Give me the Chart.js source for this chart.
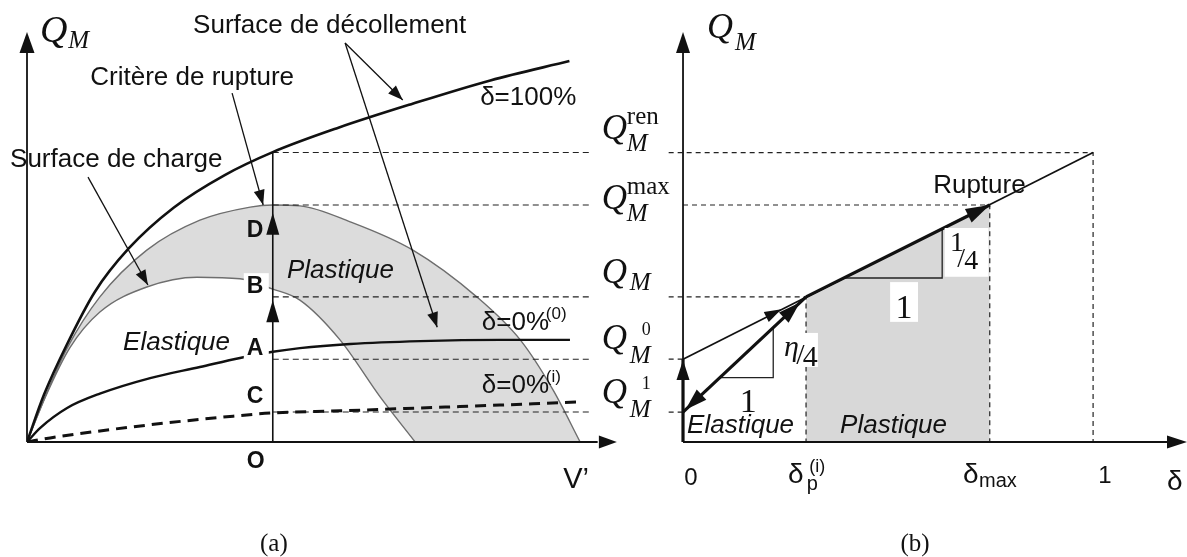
<!DOCTYPE html>
<html>
<head>
<meta charset="utf-8">
<title>Q_M - V' / delta</title>
<script src="https://cdn.jsdelivr.net/npm/chart.js@4.4.1/dist/chart.umd.min.js"></script>
<style>
  body { margin: 0; background: #fff; width: 1187px; height: 557px; overflow: hidden; position: relative; }
  canvas { position: absolute; top: 0; }
  #panelA { left: 0; }
  #panelB { left: 597px; }
</style>
</head>
<body>
<canvas id="panelA" width="620" height="557"></canvas>
<canvas id="panelB" width="590" height="557"></canvas>
<script>
// Q_M levels shared by both panels: ren, max, current, 0, 1
var qmLevels = [70.6, 57.8, 35.4, 20.2, 7.3];
var qmSup = ["ren", "max", "", "0", "1"];

// panel (a): V' - Q_M plane
var vO = 43.5; // abscissa of point O
var decolV = [0, 3, 7, 12, 18, 26, 35, 43.5, 55, 68, 82, 96];
var decolQ = [0, 11.5, 23.6, 36.6, 47.2, 57.2, 65.1, 70.7, 76.6, 82.4, 88.2, 92.9];
var ruptV = [0, 3.2, 7.1, 12.9, 21.2, 30.6, 39.5, 43.5, 48.3, 57.2, 68.3, 79.6, 87.3, 93.1, 97.9];
var ruptQ = [0, 11.0, 22.9, 35.4, 46.8, 54.1, 57.3, 57.8, 57.6, 53.7, 46.8, 35.4, 24.9, 12.7, 0];
var chargeV = [0, 3.2, 7.6, 12.9, 21.2, 30.1, 37.7, 43.5, 48.3, 55.4, 62.5, 68.7];
var chargeQ = [0, 10.8, 23.0, 31.7, 37.8, 40.2, 39.8, 37.3, 34.6, 24.9, 11.0, 0];
var zero0V = [0, 2.3, 7.1, 12.9, 21.8, 30.6, 37.7, 43.5, 48.3, 57.2, 69.6, 83.7, 96.1];
var zero0Q = [0, 3.4, 8.3, 11.8, 15.6, 18.3, 20.5, 22.0, 22.9, 23.9, 24.6, 24.9, 24.9];
var zeroIV = [0, 4.1, 21.8, 36.5, 43.5, 55.4, 69.6, 83.7, 97.9];
var zeroIQ = [0, 1.0, 4.2, 6.3, 7.1, 7.6, 8.3, 9.0, 9.8];

// panel (b): delta - Q_M plane
var deltaVals = [0, 0.30, 0.748, 1]; // 0, delta_p(i), delta_max, 1
var tri1D = [0.09, 0.22, 0.22], tri1Q = [15.7, 15.7, 27.9];
var tri2D = [0.395, 0.632, 0.632], tri2Q = [40.0, 40.0, 52.0];

function pts(xs, ys) {
  return xs.map(function (x, i) { return { x: x, y: ys[i] }; });
}

function arrowHead(ctx, x0, y0, x1, y1, len, half) {
  var a = Math.atan2(y1 - y0, x1 - x0), c = Math.cos(a), s = Math.sin(a);
  ctx.beginPath();
  ctx.moveTo(x1, y1);
  ctx.lineTo(x1 - len * c + half * s, y1 - len * s - half * c);
  ctx.lineTo(x1 - len * c - half * s, y1 - len * s + half * c);
  ctx.closePath();
  ctx.fill();
}

function seg(ctx, x0, y0, x1, y1, w) {
  ctx.lineWidth = w;
  ctx.beginPath();
  ctx.moveTo(x0, y0);
  ctx.lineTo(x1, y1);
  ctx.stroke();
}

function txt(ctx, s, x, y, font, align) {
  ctx.font = font;
  ctx.textAlign = align || 'left';
  ctx.textBaseline = 'alphabetic';
  ctx.fillText(s, x, y);
}

var SANS = "'Liberation Sans', Arial, sans-serif";
var SERIF = "'Liberation Serif', 'Times New Roman', serif";

// ---------- panel (a) ----------
var guidesA = [];
qmLevels.forEach(function (q) {
  guidesA.push({ x: vO, y: q }, { x: 100, y: q }, { x: 100, y: null });
});

var drawA = {
  id: 'drawA',
  afterDatasetsDraw: function (chart) {
    var ctx = chart.ctx, sx = chart.scales.x, sy = chart.scales.y;
    var X = function (v) { return sx.getPixelForValue(v); };
    var Y = function (q) { return sy.getPixelForValue(q); };
    ctx.save();
    ctx.strokeStyle = '#111';
    ctx.fillStyle = '#111';
    ctx.setLineDash([]);

    // axes
    seg(ctx, X(0), Y(0), X(0), Y(95), 1.8);
    arrowHead(ctx, X(0), Y(90), X(0), Y(100), 21, 7.5);
    seg(ctx, X(0), Y(0), X(101), Y(0), 1.8);
    arrowHead(ctx, X(95), Y(0), X(104.4), Y(0), 18, 6.5);

    // loading path O -> A -> B -> D
    arrowHead(ctx, X(vO), Y(25), X(vO), Y(34.6), 22, 6.5);
    arrowHead(ctx, X(vO), Y(45), X(vO), Y(55.9), 22, 6.5);

    // leader lines
    [[56.3, 97.3, 66.5, 83.4], [56.3, 97.3, 72.6, 28.0],
     [36.3, 85.1, 41.8, 57.8], [10.8, 64.6, 21.4, 38.3]].forEach(function (l) {
      seg(ctx, X(l[0]), Y(l[1]), X(l[2]), Y(l[3]), 1.3);
      arrowHead(ctx, X(l[0]), Y(l[1]), X(l[2]), Y(l[3]), 15, 5.5);
    });

    // point letters (B and A sit on a white patch)
    var letters = [['D', 50.0, false], ['B', 36.3, true], ['A', 21.2, true], ['C', 9.5, false], ['O', -6.3, false]];
    letters.forEach(function (l) {
      var x = X(38.9), y = Y(l[1]);
      if (l[2]) {
        ctx.fillStyle = '#fff';
        ctx.fillRect(x - 3, y - 20, 25, 24);
        ctx.fillStyle = '#111';
      }
      txt(ctx, l[0], x, y, 'bold 23px ' + SANS);
    });

    txt(ctx, 'Surface de décollement', X(29.4), Y(99.8), '26px ' + SANS);
    txt(ctx, 'Critère de rupture', X(11.2), Y(87.1), '26px ' + SANS);
    txt(ctx, 'Surface de charge', X(-3.0), Y(67.1), '26px ' + SANS);
    txt(ctx, 'δ=100%', X(80.2), Y(82.2), '26px ' + SANS);
    txt(ctx, 'Plastique', X(46.0), Y(40.0), 'italic 26px ' + SANS);
    txt(ctx, 'Elastique', X(17.0), Y(22.4), 'italic 26px ' + SANS);
    txt(ctx, 'δ=0%', X(80.5), Y(27.3), '26px ' + SANS);
    txt(ctx, '(0)', X(80.5) + 64, Y(27.3) - 11, '17px ' + SANS);
    txt(ctx, 'δ=0%', X(80.5), Y(12.0), '26px ' + SANS);
    txt(ctx, '(i)', X(80.5) + 64, Y(12.0) - 11, '17px ' + SANS);
    txt(ctx, 'V’', X(94.9), Y(-11.2), '29px ' + SANS);

    txt(ctx, 'Q', X(2.3), Y(97.6), 'italic 38px ' + SERIF);
    txt(ctx, 'M', X(7.3), Y(96.1), 'italic 25px ' + SERIF);

    txt(ctx, '(a)', X(43.7), Y(-26.5), '25px ' + SERIF, 'center');
    ctx.restore();
  }
};

new Chart(document.getElementById('panelA'), {
  type: 'scatter',
  data: {
    datasets: [
      { data: pts(decolV, decolQ), showLine: true, cubicInterpolationMode: 'monotone',
        borderColor: '#111', borderWidth: 2.6 },
      { data: pts(zero0V, zero0Q), showLine: true, cubicInterpolationMode: 'monotone',
        borderColor: '#111', borderWidth: 2.4 },
      { data: pts(zeroIV, zeroIQ), showLine: true, cubicInterpolationMode: 'monotone',
        borderColor: '#111', borderWidth: 3, borderDash: [11, 7] },
      { data: pts([vO, vO], [0, qmLevels[0]]), showLine: true,
        borderColor: '#111', borderWidth: 1.6 },
      { data: guidesA, showLine: true, borderColor: '#222', borderWidth: 1.1, borderDash: [6, 4] },
      { data: pts(chargeV, chargeQ), showLine: true, cubicInterpolationMode: 'monotone',
        borderColor: '#6e6e6e', borderWidth: 1.4, fill: 'origin', backgroundColor: '#ffffff' },
      { data: pts(ruptV, ruptQ), showLine: true, cubicInterpolationMode: 'monotone',
        borderColor: '#6e6e6e', borderWidth: 1.4, fill: 'origin', backgroundColor: '#dcdcdc' }
    ]
  },
  options: {
    responsive: false,
    animation: false,
    devicePixelRatio: 1,
    layout: { padding: { left: 27, right: 28, top: 32, bottom: 115 } },
    elements: { point: { radius: 0, hoverRadius: 0 } },
    scales: {
      x: { type: 'linear', min: 0, max: 100, display: false },
      y: { type: 'linear', min: 0, max: 100, display: false }
    },
    plugins: {
      legend: { display: false },
      tooltip: { enabled: false },
      filler: { drawTime: 'beforeDatasetsDraw' }
    }
  },
  plugins: [drawA]
});

// ---------- panel (b) ----------
var dP = deltaVals[1], dMax = deltaVals[2];
var guidesB = [
  { x: -0.035, y: qmLevels[0] }, { x: deltaVals[3], y: qmLevels[0] }, { x: deltaVals[3], y: 0 }, { x: 1, y: null },
  { x: 0, y: qmLevels[1] }, { x: dMax, y: qmLevels[1] }, { x: dMax, y: 0 }, { x: dMax, y: null },
  { x: -0.035, y: qmLevels[2] }, { x: dP, y: qmLevels[2] }, { x: dP, y: 0 }, { x: dP, y: null },
  { x: -0.035, y: qmLevels[3] }, { x: 0, y: qmLevels[3] }, { x: 0, y: null },
  { x: -0.035, y: qmLevels[4] }, { x: 0, y: qmLevels[4] }
];
var triangles = pts(tri1D, tri1Q).concat([{ x: 0.3, y: null }], pts(tri2D, tri2Q));

var drawB = {
  id: 'drawB',
  afterDatasetsDraw: function (chart) {
    var ctx = chart.ctx, sx = chart.scales.x, sy = chart.scales.y;
    var X = function (v) { return sx.getPixelForValue(v); };
    var Y = function (q) { return sy.getPixelForValue(q); };
    ctx.save();
    ctx.strokeStyle = '#111';
    ctx.fillStyle = '#111';
    ctx.setLineDash([]);

    // axes
    seg(ctx, X(0), Y(0), X(0), Y(95), 1.8);
    arrowHead(ctx, X(0), Y(90), X(0), Y(100), 21, 7);
    seg(ctx, X(0), Y(0), X(1.2), Y(0), 1.8);
    arrowHead(ctx, X(1.1), Y(0), X(1.229), Y(0), 20, 6.5);

    // arrow heads on the loading paths
    var q = qmLevels;
    arrowHead(ctx, X(0), Y(5), X(0), Y(q[3] - 0.2), 20, 6.5);
    var tU = 0.95, tL = 0.02;
    arrowHead(ctx, X(0), Y(q[4]), X(dP * tU), Y(q[4] + (q[2] - q[4]) * tU), 22, 7);
    arrowHead(ctx, X(dP), Y(q[2]), X(dP * tL), Y(q[2] + (q[4] - q[2]) * (1 - tL)), 22, 7);
    var tR = 0.8;
    arrowHead(ctx, X(0), Y(q[3]), X(dP * tR), Y(q[3] + (q[2] - q[3]) * tR), 17, 5.5);
    arrowHead(ctx, X(dP), Y(q[2]), X(dMax), Y(q[1]), 24, 7.5);

    // white patches behind slope labels
    ctx.fillStyle = '#fff';
    ctx.fillRect(X(0.239), Y(26.6), X(0.329) - X(0.239), Y(18.3) - Y(26.6));
    ctx.fillRect(X(0.505), Y(39.0), X(0.573) - X(0.505), Y(29.3) - Y(39.0));
    ctx.fillRect(X(0.638), Y(52.2), X(0.745) - X(0.638), Y(40.3) - Y(52.2));
    ctx.fillStyle = '#111';

    txt(ctx, 'η', X(0.246), Y(20.9), 'italic 30px ' + SERIF);
    txt(ctx, '/', X(0.276), Y(19.0), '30px ' + SERIF);
    txt(ctx, '4', X(0.292), Y(18.6), '30px ' + SERIF);
    txt(ctx, '1', X(0.159), Y(7.3), '34px ' + SERIF, 'center');
    txt(ctx, '1', X(0.539), Y(30.2), '34px ' + SERIF, 'center');
    txt(ctx, '1', X(0.651), Y(46.6), '28px ' + SERIF);
    txt(ctx, '/', X(0.669), Y(42.6), '28px ' + SERIF);
    txt(ctx, '4', X(0.686), Y(42.1), '28px ' + SERIF);

    // Q_M tick labels on the left
    var qBase = [73.9, 56.8, 38.8, 22.7, 9.5];
    qmLevels.forEach(function (lv, i) {
      var x = X(-0.198), y = Y(qBase[i]);
      txt(ctx, 'Q', x, y, 'italic 35px ' + SERIF);
      if (i < 2) {
        txt(ctx, qmSup[i], x + 25, y - 15, '25px ' + SERIF);
        txt(ctx, 'M', x + 25, y + 12, 'italic 25px ' + SERIF);
      } else if (i === 2) {
        txt(ctx, 'M', x + 28, y + 7, 'italic 25px ' + SERIF);
      } else {
        txt(ctx, qmSup[i], x + 40, y - 14, '18px ' + SERIF);
        txt(ctx, 'M', x + 28, y + 14, 'italic 25px ' + SERIF);
      }
    });

    txt(ctx, 'Q', X(0.0585), Y(98.5), 'italic 36px ' + SERIF);
    txt(ctx, 'M', X(0.127), Y(95.6), 'italic 25px ' + SERIF);

    // delta tick labels
    txt(ctx, '0', X(0.0195), Y(-10.5), '24px ' + SANS, 'center');
    txt(ctx, 'δ', X(0.256), Y(-10), '28px ' + SANS);
    txt(ctx, 'p', X(0.302), Y(-11.8), '20px ' + SANS);
    txt(ctx, '(i)', X(0.308), Y(-7.3), '18px ' + SANS);
    txt(ctx, 'δ', X(0.683), Y(-10), '28px ' + SANS);
    txt(ctx, 'max', X(0.722), Y(-11), '20px ' + SANS);
    txt(ctx, '1', X(1.029), Y(-10), '24px ' + SANS, 'center');
    txt(ctx, 'δ', X(1.18), Y(-11.7), '28px ' + SANS);

    txt(ctx, 'Rupture', X(0.61), Y(60.7), '26px ' + SANS);
    txt(ctx, 'Elastique', X(0.01), Y(2.2), 'italic 26px ' + SANS);
    txt(ctx, 'Plastique', X(0.383), Y(2.2), 'italic 26px ' + SANS);

    txt(ctx, '(b)', X(0.566), Y(-26.5), '25px ' + SERIF, 'center');
    ctx.restore();
  }
};

new Chart(document.getElementById('panelB'), {
  type: 'scatter',
  data: {
    datasets: [
      { data: pts([0, dP], [qmLevels[4], qmLevels[2]]), showLine: true, borderColor: '#111', borderWidth: 3.2 },
      { data: pts([dP, dMax], [qmLevels[2], qmLevels[1]]), showLine: true, borderColor: '#111', borderWidth: 3.2 },
      { data: pts([0, deltaVals[3]], [qmLevels[3], qmLevels[0]]), showLine: true, borderColor: '#111', borderWidth: 1.7 },
      { data: pts([0, 0], [0, qmLevels[3]]), showLine: true, borderColor: '#111', borderWidth: 3.2 },
      { data: triangles, showLine: true, borderColor: '#222', borderWidth: 1.3 },
      { data: guidesB, showLine: true, borderColor: '#222', borderWidth: 1.2, borderDash: [5, 4] },
      { data: pts([dP, dMax], [qmLevels[2], qmLevels[1]]), showLine: true, borderColor: 'rgba(0,0,0,0)',
        borderWidth: 1, fill: 'origin', backgroundColor: '#d8d8d8' }
    ]
  },
  options: {
    responsive: false,
    animation: false,
    devicePixelRatio: 1,
    layout: { padding: { left: 4, right: 0, top: 32, bottom: 115 } },
    elements: { point: { radius: 0, hoverRadius: 0 } },
    scales: {
      x: { type: 'linear', min: -0.2, max: 1.229, display: false },
      y: { type: 'linear', min: 0, max: 100, display: false }
    },
    plugins: {
      legend: { display: false },
      tooltip: { enabled: false },
      filler: { drawTime: 'beforeDatasetsDraw' }
    }
  },
  plugins: [drawB]
});
</script>
</body>
</html>
